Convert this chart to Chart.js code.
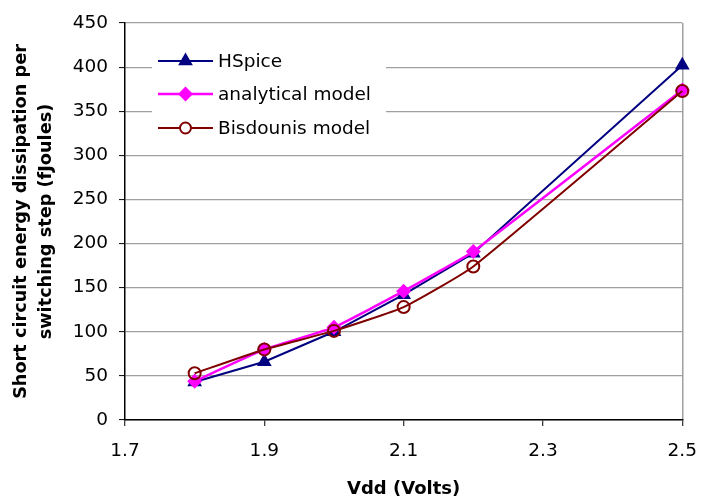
<!DOCTYPE html>
<html>
<head>
<meta charset="utf-8">
<script src="https://cdn.jsdelivr.net/npm/chart.js@4/dist/chart.umd.min.js"></script>
<style>
html,body{margin:0;padding:0;background:#fff;}
canvas{display:block;}
</style>
</head>
<body>
<canvas id="c" width="711" height="497"></canvas>
<script>
// ---- data ----
const vdd = [1.8, 1.9, 2.0, 2.1, 2.2, 2.5];
const hspice = [43, 66, 100, 142, 189, 402];
const analytical = [44, 80, 105, 146, 191, 374];
const bisdounis = [53, 80, 101, 128, 174, 373];
const xTickValues = [1.7, 1.9, 2.1, 2.3, 2.5];
const xTickLabels = ['1.7', '1.9', '2.1', '2.3', '2.5'];
const seriesNames = ['HSpice', 'analytical model', 'Bisdounis model'];
const xTitle = 'Vdd (Volts)';
const yTitle = ['Short circuit energy dissipation per', 'switching step (fJoules)'];

const NAVY = '#000080', MAGENTA = '#FF00FF', MAROON = '#800000', GRID = '#a0a0a0';
const FONT = 'DejaVu Sans';
Chart.defaults.font.family = FONT;
Chart.defaults.color = '#000';

function pts(ys){ return vdd.map((x,i)=>({x:x, y:ys[i]})); }

function drawMarker(ctx, style, x, y){
  ctx.save();
  if (style === 'triangle'){
    const r = 8.5;
    ctx.fillStyle = NAVY; ctx.beginPath();
    ctx.moveTo(x, y - r);
    ctx.lineTo(x + r*Math.sin(Math.PI*2/3), y - r*Math.cos(Math.PI*2/3));
    ctx.lineTo(x - r*Math.sin(Math.PI*2/3), y - r*Math.cos(Math.PI*2/3));
    ctx.closePath(); ctx.fill();
  } else if (style === 'diamond'){
    const r = 7.5;
    ctx.fillStyle = MAGENTA; ctx.beginPath();
    ctx.moveTo(x - r, y); ctx.lineTo(x, y - r); ctx.lineTo(x + r, y); ctx.lineTo(x, y + r);
    ctx.closePath(); ctx.fill();
  } else {
    ctx.strokeStyle = MAROON; ctx.lineWidth = 2; ctx.fillStyle = '#fff';
    ctx.beginPath(); ctx.arc(x, y, 5.5, 0, Math.PI*2); ctx.fill(); ctx.stroke();
  }
  ctx.restore();
}

const legendPlugin = {
  id: 'boxLegend',
  afterDraw(chart){
    const ctx = chart.ctx;
    ctx.save();
    ctx.fillStyle = '#fff';
    ctx.fillRect(152, 42, 234, 104);
    const rows = [61, 94, 128];
    const colors = [NAVY, MAGENTA, MAROON];
    const widths = [2, 2.5, 2];
    const styles = ['triangle', 'diamond', 'circle'];
    rows.forEach((ry, i) => {
      ctx.strokeStyle = colors[i]; ctx.lineWidth = widths[i];
      ctx.beginPath(); ctx.moveTo(158, ry); ctx.lineTo(213, ry); ctx.stroke();
      drawMarker(ctx, styles[i], 185.5, ry);
      ctx.fillStyle = '#000';
      ctx.font = '18.5px "' + FONT + '"';
      ctx.textAlign = 'left'; ctx.textBaseline = 'middle';
      ctx.fillText(seriesNames[i], 218, ry + 1);
    });
    ctx.restore();
  }
};

new Chart(document.getElementById('c'), {
  type: 'line',
  data: {
    datasets: [
      { label: seriesNames[0], data: pts(hspice), borderColor: NAVY, backgroundColor: NAVY,
        borderWidth: 2, pointStyle: 'triangle', pointRadius: 8.5, pointBackgroundColor: NAVY,
        pointBorderColor: NAVY, pointBorderWidth: 0, tension: 0, order: 3, clip: false },
      { label: seriesNames[1], data: pts(analytical), borderColor: MAGENTA, backgroundColor: MAGENTA,
        borderWidth: 2.5, pointStyle: 'rectRot', pointRadius: 7.5, pointBackgroundColor: MAGENTA,
        pointBorderColor: MAGENTA, pointBorderWidth: 0, tension: 0.1, order: 2, clip: false },
      { label: seriesNames[2], data: pts(bisdounis), borderColor: MAROON, backgroundColor: 'rgba(0,0,0,0)',
        borderWidth: 2, pointStyle: 'circle', pointRadius: 6, pointBackgroundColor: 'rgba(0,0,0,0)',
        pointBorderColor: MAROON, pointBorderWidth: 2, tension: 0.15, order: 1, clip: false }
    ]
  },
  options: {
    responsive: false,
    animation: false,
    devicePixelRatio: 1,
    layout: { padding: { top: 23, right: 16, left: 0, bottom: 0 } },
    plugins: { legend: { display: false }, tooltip: { enabled: false } },
    scales: {
      x: {
        type: 'linear', min: 1.7, max: 2.5,
        afterBuildTicks: s => { s.ticks = xTickValues.map(v => ({ value: v })); },
        afterFit: s => { s.height = 77; },
        ticks: { font: { size: 18.5, lineHeight: 1.2 }, padding: 14, maxRotation: 0,
          callback: (v) => { const i = xTickValues.indexOf(v); return i >= 0 ? xTickLabels[i] : ''; } },
        grid: { drawOnChartArea: true, tickLength: 6, tickColor: '#000', tickWidth: 1,
          color: c => (c.index === xTickValues.length - 1 ? GRID : 'rgba(0,0,0,0)'), lineWidth: 1.5 },
        border: { color: '#000', width: 1.5 },
        title: { display: true, text: xTitle, font: { size: 18, weight: 'bold', lineHeight: 1 },
          padding: { top: 0, bottom: -1 } }
      },
      y: {
        min: 0, max: 450,
        ticks: { stepSize: 50, font: { size: 18.5 }, padding: 11 },
        afterFit: s => { s.width = 125; },
        grid: { color: GRID, lineWidth: 1.2, tickLength: 6, tickColor: '#000', tickWidth: 1 },
        border: { color: '#000', width: 1.5 },
        title: { display: true, text: yTitle, font: { size: 17.7, weight: 'bold', lineHeight: 1.42 },
          padding: { top: 9, bottom: 0 } }
      }
    }
  },
  plugins: [legendPlugin]
});
</script>
</body>
</html>
